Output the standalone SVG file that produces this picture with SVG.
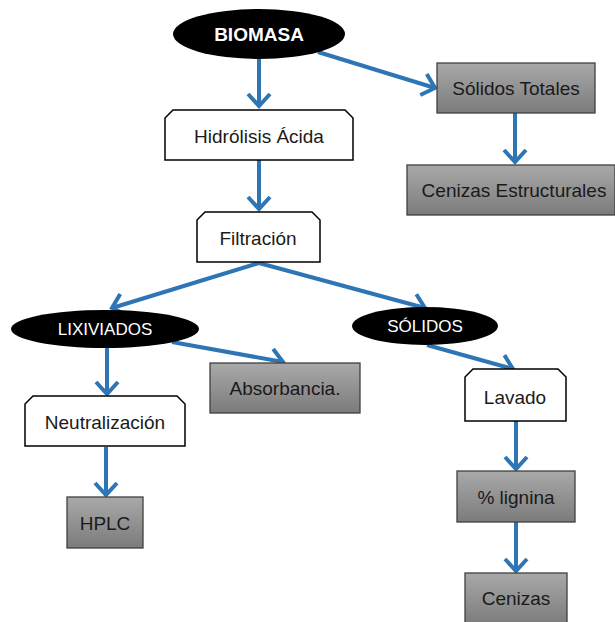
<svg xmlns="http://www.w3.org/2000/svg" width="615" height="622" viewBox="0 0 615 622">
<defs>
<linearGradient id="g" x1="0" y1="0" x2="0" y2="1">
<stop offset="0" stop-color="#a9a9a9"/>
<stop offset="1" stop-color="#7b7b7b"/>
</linearGradient>
<marker id="ah" markerUnits="userSpaceOnUse" markerWidth="30" markerHeight="30" refX="15" refY="15" orient="auto" viewBox="0 0 30 30">
<path d="M3,4 L15,15 L3,26" fill="none" stroke="#2e75b6" stroke-width="4" stroke-linejoin="miter"/>
</marker>
<style>
.gbox{fill:url(#g);stroke:#404040;stroke-width:1.3}
.wbox{fill:#fff;stroke:#000;stroke-width:1.5}
.ell{fill:#000}
.t{font-family:"Liberation Sans",Arial,sans-serif;font-size:19px;fill:#1a1a1a;text-anchor:middle}
.wt{font-family:"Liberation Sans",Arial,sans-serif;font-size:17px;fill:#fff;text-anchor:middle}
.wb{font-size:19px;font-weight:bold}
.c{fill:none;stroke:#2e75b6;stroke-width:4;marker-end:url(#ah)}
</style>
</defs>
<rect width="615" height="622" fill="#fff"/>
<g id="connectors">
<line class="c" x1="259" y1="58" x2="259" y2="106"/>
<line class="c" x1="318" y1="52" x2="435" y2="88"/>
<line class="c" x1="515" y1="113" x2="515" y2="162"/>
<line class="c" x1="259" y1="160" x2="259" y2="209"/>
<line class="c" x1="259" y1="263" x2="112" y2="308"/>
<line class="c" x1="259" y1="263" x2="425" y2="308"/>
<line class="c" x1="172" y1="342" x2="283" y2="362"/>
<line class="c" x1="107" y1="348" x2="107" y2="394"/>
<line class="c" x1="106" y1="447" x2="106" y2="495"/>
<line class="c" x1="427" y1="345" x2="513" y2="369"/>
<line class="c" x1="516" y1="421" x2="516" y2="469"/>
<line class="c" x1="516" y1="522" x2="516" y2="571"/>
</g>
<g id="biomasa">
<ellipse class="ell" cx="259" cy="34" rx="86" ry="25"/>
<text class="wt wb" x="259" y="41">BIOMASA</text>
</g>
<g id="solidos-totales">
<rect class="gbox" x="437" y="63" width="158" height="50"/>
<text class="t" x="516" y="95">Sólidos Totales</text>
</g>
<g id="cenizas-estructurales">
<rect class="gbox" x="407" y="165" width="208" height="50"/>
<text class="t" x="514" y="197">Cenizas Estructurales</text>
</g>
<g id="hidrolisis">
<path class="wbox" d="M173,110 L345,110 L353,118 L353,160 L165,160 L165,118 Z"/>
<text class="t" x="259" y="143">Hidrólisis Ácida</text>
</g>
<g id="filtracion">
<path class="wbox" d="M205,212 L312,212 L320,220 L320,262 L197,262 L197,220 Z"/>
<text class="t" x="258" y="245">Filtración</text>
</g>
<g id="lixiviados">
<ellipse class="ell" cx="105" cy="329" rx="94" ry="19"/>
<text class="wt" x="105" y="335">LIXIVIADOS</text>
</g>
<g id="solidos">
<ellipse class="ell" cx="425" cy="326" rx="73" ry="19"/>
<text class="wt" x="425" y="332">SÓLIDOS</text>
</g>
<g id="absorbancia">
<rect class="gbox" x="210" y="363" width="150" height="50"/>
<text class="t" x="285" y="395">Absorbancia.</text>
</g>
<g id="neutralizacion">
<path class="wbox" d="M33,396 L177,396 L185,404 L185,446 L25,446 L25,404 Z"/>
<text class="t" x="105" y="429">Neutralización</text>
</g>
<g id="hplc">
<rect class="gbox" x="67" y="497" width="76" height="51"/>
<text class="t" x="105" y="530">HPLC</text>
</g>
<g id="lavado">
<path class="wbox" d="M473,369 L558,369 L566,377 L566,421 L465,421 L465,377 Z"/>
<text class="t" x="515" y="404">Lavado</text>
</g>
<g id="lignina">
<rect class="gbox" x="457" y="471" width="118" height="51"/>
<text class="t" x="516" y="504">% lignina</text>
</g>
<g id="cenizas">
<rect class="gbox" x="465" y="573" width="102" height="52"/>
<text class="t" x="516" y="605">Cenizas</text>
</g>
</svg>
